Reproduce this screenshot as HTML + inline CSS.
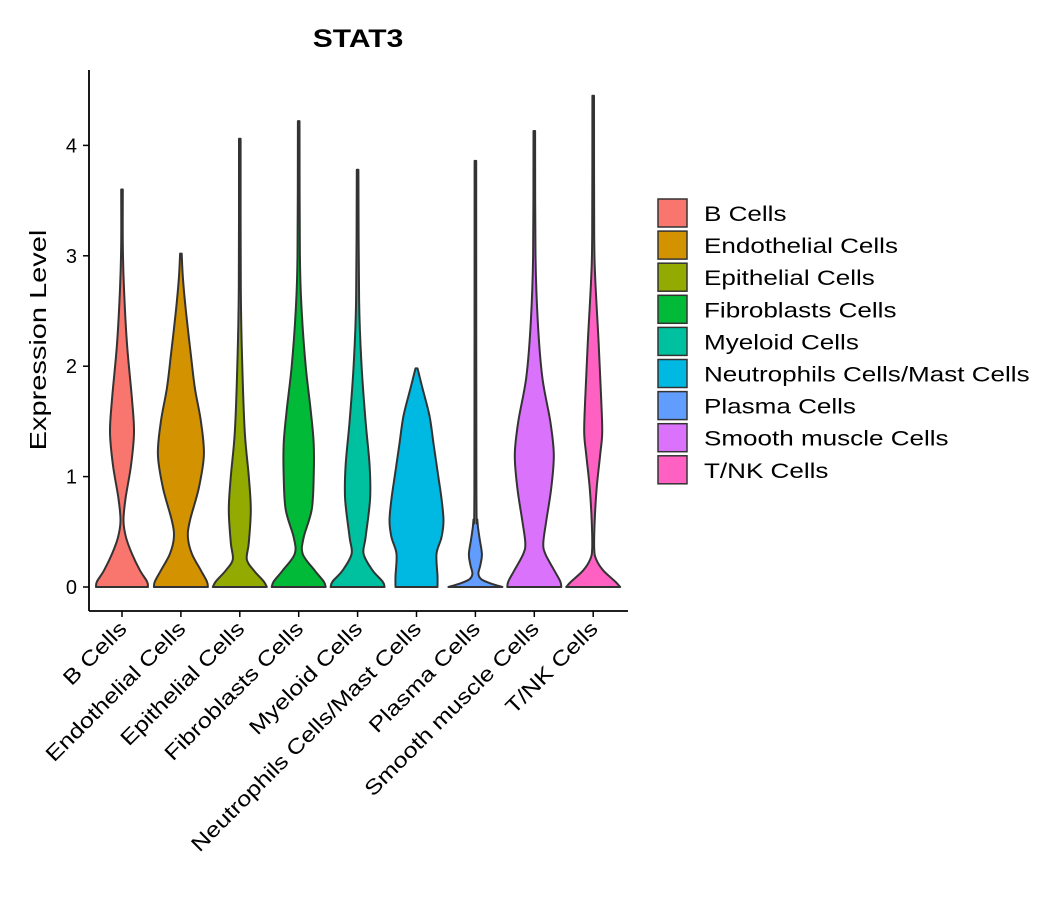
<!DOCTYPE html>
<html><head><meta charset="utf-8"><style>
body{margin:0;background:#fff;width:1057px;height:900px;overflow:hidden}
svg text{font-family:"Liberation Sans",sans-serif;fill:#000}
</style></head><body>
<svg id="chart" width="1057" height="900">
<text class="wide" data-f="1.2" x="358" y="47" text-anchor="middle" font-size="25" font-weight="bold">STAT3</text>
<text class="wide" data-f="1.26" transform="translate(46,340) rotate(-90)" text-anchor="middle" font-size="23">Expression Level</text>
<g id="plot"></g>
<g id="legend"></g>
</svg>
<script>
const categories=["B Cells","Endothelial Cells","Epithelial Cells","Fibroblasts Cells","Myeloid Cells","Neutrophils Cells/Mast Cells","Plasma Cells","Smooth muscle Cells","T/NK Cells"];
const colors=["#F8766D","#D39200","#93AA00","#00BA38","#00C19F","#00B9E3","#619CFF","#DB72FB","#FF61C3"];
const yTicks=[0,1,2,3,4];
// density profiles: [expression value, relative half-width (max 27)]
const bCells=[[0,26],[0.05,25],[0.15,18],[0.3,10],[0.45,4],[0.6,1.5],[0.8,3.5],[1.1,9],[1.4,12],[1.7,10],[2.2,5],[2.7,2],[3.1,0.8],[3.6,0.8]];
const endothelial=[[0,27],[0.05,26],[0.15,20],[0.3,11],[0.45,7],[0.6,9],[0.9,18],[1.2,23],[1.5,20],[1.8,14],[2.1,10],[2.5,5],[2.8,2],[3.02,0.8]];
const epithelial=[[0,27],[0.05,24],[0.15,14],[0.25,7],[0.4,9],[0.7,11],[1.0,9],[1.4,5],[2.0,2.5],[2.7,1],[4.06,0.8]];
const fibroblasts=[[0,27],[0.05,25],[0.15,16],[0.3,4],[0.45,5],[0.7,13],[1.0,15],[1.3,15],[1.6,12],[2.0,7],[2.5,3],[3.0,1.2],[4.22,0.8]];
const myeloid=[[0,27],[0.05,25],[0.15,15],[0.3,6],[0.45,8],[0.8,12.5],[1.1,12],[1.5,8],[2.0,4],[2.6,1.5],[3.78,0.8]];
const neutrophils=[[0,21],[0.1,21],[0.3,20],[0.45,25],[0.6,27],[0.8,25],[1.05,21],[1.3,17],[1.55,13],[1.8,6],[1.98,1]];
const plasma=[[0,27],[0.03,16],[0.07,6],[0.12,3],[0.2,5],[0.3,6.5],[0.45,4],[0.6,2],[0.9,1],[3.86,0.8]];
const smoothMuscle=[[0,27],[0.05,26],[0.15,20],[0.3,11],[0.4,9],[0.6,12],[0.9,17],[1.2,19.5],[1.5,16],[1.9,8],[2.4,3.5],[3.0,1.2],[4.13,0.8]];
const tnk=[[0,27],[0.05,22],[0.15,10],[0.25,3],[0.35,1],[0.6,1.5],[0.9,3.5],[1.2,7],[1.4,9],[1.7,8],[2.2,5.5],[2.8,2],[3.2,1],[4.45,0.8]];
const profiles=[bCells,endothelial,epithelial,fibroblasts,myeloid,neutrophils,plasma,smoothMuscle,tnk];

const NS="http://www.w3.org/2000/svg";
const x0=89,xEnd=628,yTop=70,yBot=611;
const yScale=v=>587-v*110.4;
const xScale=i=>122+i*58.9;
const wScale=w=>w;
function mk(tag,attrs,parent){const e=document.createElementNS(NS,tag);for(const k in attrs)e.setAttribute(k,attrs[k]);parent.appendChild(e);return e;}
const plot=document.getElementById('plot');
function side(pts){
 let d="";for(let i=0;i<pts.length-1;i++){const p0=pts[Math.max(i-1,0)],p1=pts[i],p2=pts[i+1],p3=pts[Math.min(i+2,pts.length-1)];
 const c1=[p1[0]+(p2[0]-p0[0])/6,p1[1]+(p2[1]-p0[1])/6],c2=[p2[0]-(p3[0]-p1[0])/6,p2[1]-(p3[1]-p1[1])/6];
 d+=` C${c1[0]},${c1[1]} ${c2[0]},${c2[1]} ${p2[0]},${p2[1]}`;}return d;}
profiles.forEach((prof,i)=>{
 const cx=xScale(i);
 const right=prof.map(p=>[cx+wScale(p[1]),yScale(p[0])]);
 const left=prof.slice().reverse().map(p=>[cx-wScale(p[1]),yScale(p[0])]);
 const d=`M${right[0][0]},${right[0][1]}`+side(right)+` L${left[0][0]},${left[0][1]}`+side(left)+"Z";
 const v=mk('path',{d:d,fill:colors[i],stroke:"#333",'stroke-width':2,'stroke-linejoin':'round'},plot);
 
 
 mk('line',{x1:cx,x2:cx,y1:yBot,y2:yBot+6,stroke:"#000",'stroke-width':1.5},plot);
 const t=mk('text',{transform:`translate(${cx+6},${yBot+19}) rotate(-45)`,'text-anchor':'end','font-size':21,class:'wide','data-f':1.2},plot);
 t.textContent=categories[i];
 
 
});
mk('line',{x1:x0,x2:x0,y1:yTop,y2:yBot,stroke:"#000",'stroke-width':1.8},plot);
mk('line',{x1:x0,x2:xEnd,y1:yBot,y2:yBot,stroke:"#000",'stroke-width':1.8},plot);
yTicks.forEach(v=>{
 mk('line',{x1:x0-6,x2:x0,y1:yScale(v),y2:yScale(v),stroke:"#000",'stroke-width':1.5},plot);
 const t=mk('text',{x:x0-12,y:yScale(v)+7,'text-anchor':'end','font-size':20},plot);
 t.textContent=v;
 
 
});
const lg=document.getElementById('legend');
categories.forEach((c,i)=>{
 const y=199+i*32.1;
 const r=mk('rect',{x:658,y:y,width:29,height:28,fill:colors[i],stroke:"#333",'stroke-width':1.5},lg);
 
 
 const t=mk('text',{x:704,y:y+22,'font-size':21,class:'wide','data-f':1.24},lg);
 t.textContent=c;
 
 
});
document.querySelectorAll('text.wide').forEach(t=>{
 const L=t.getComputedTextLength();
 t.setAttribute('textLength',L*parseFloat(t.getAttribute('data-f')));
 t.setAttribute('lengthAdjust','spacingAndGlyphs');
});
</script>
</body></html>
